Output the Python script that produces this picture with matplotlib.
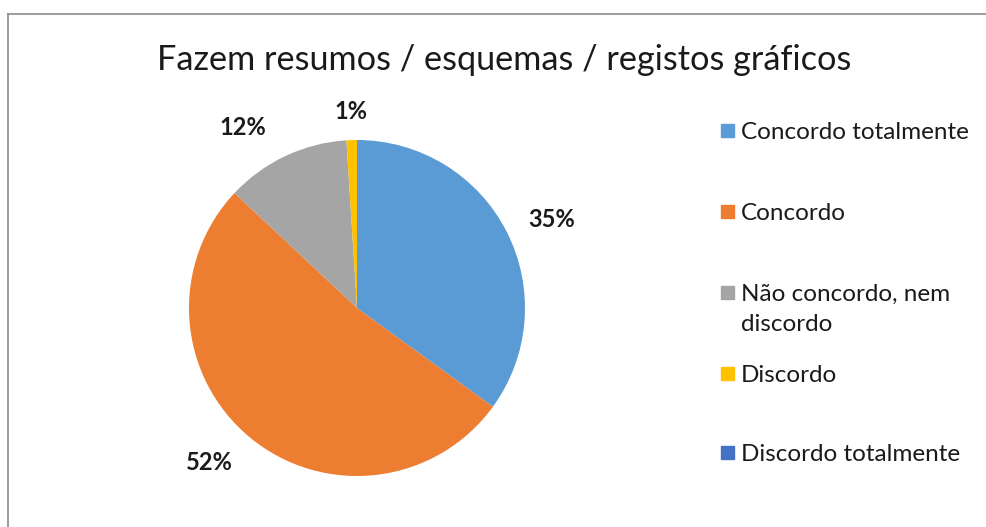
import numpy as np
import matplotlib.pyplot as plt
from matplotlib.patches import Rectangle
from matplotlib.lines import Line2D

plt.rcParams['font.family'] = ['Lato', 'DejaVu Sans']

# ---------------- Daten ------------------------------------------------------
titel = "Fazem resumos / esquemas / registos gráficos"
kategorien = ["Concordo totalmente", "Concordo", "Não concordo, nem\ndiscordo",
              "Discordo", "Discordo totalmente"]
prozent = [35, 52, 12, 1, 0]
farben = ["#5B9BD5", "#ED7D31", "#A5A5A5", "#FFC000", "#4472C4"]

W, H = 987, 527
fig = plt.figure(figsize=(W / 100, H / 100), dpi=100)

# Rahmen (nur oben und links sichtbar)
fig.add_artist(Line2D([8.5 / W, 8.5 / W], [0, 1 - 13.5 / H], color="#8C8C8C", lw=1.2))
fig.add_artist(Line2D([8.5 / W, 1], [1 - 13.5 / H, 1 - 13.5 / H], color="#8C8C8C", lw=1.2))

# Kreisdiagramm
cx, cy, r = 357, 308, 168
ax = fig.add_axes([(cx - r) / W, (H - cy - r) / H, 2 * r / W, 2 * r / H])
wedges, texts, autotexts = ax.pie(
    prozent, colors=farben, startangle=90, counterclock=False,
    autopct=lambda p: f"{p:.0f}%" if p > 0.5 else "",
    pctdistance=1.27, wedgeprops=dict(linewidth=0),
    textprops=dict(fontsize=17, fontweight="bold", color="#1a1a1a"))
ax.set_xlim(-1, 1); ax.set_ylim(-1, 1)
ax.set_aspect("equal")

# Feinjustierung der Beschriftungen (Winkelversatz, Abstandsfaktor)
anpassung = {0: (-2.5, 1.0), 1: (-4, 1.0), 2: (7, 1.0), 3: (0, 0.92)}
for i, (dwinkel, fak) in anpassung.items():
    x, y = autotexts[i].get_position()
    w = np.arctan2(y, x) + np.radians(dwinkel)
    d = np.hypot(x, y) * fak
    autotexts[i].set_position((d * np.cos(w), d * np.sin(w)))

fig.text(504 / W, 1 - 60 / H, titel, ha="center", va="center", fontsize=24.7, color="#1a1a1a")

# Legende
legende_y = [131, 212, 293, 374, 453]
for kat, farbe, ly in zip(kategorien, farben, legende_y):
    fig.add_artist(Rectangle((721 / W, 1 - (ly + 6) / H), 13 / W, 13 / H,
                             color=farbe, transform=fig.transFigure))
    for k, zeile in enumerate(kat.split("\n")):
        fig.text(741 / W, 1 - (ly + 8 + 30 * k) / H, zeile, ha="left", va="baseline",
                 fontsize=17.5, color="#1a1a1a")

fig.savefig("out.png", dpi=100)
